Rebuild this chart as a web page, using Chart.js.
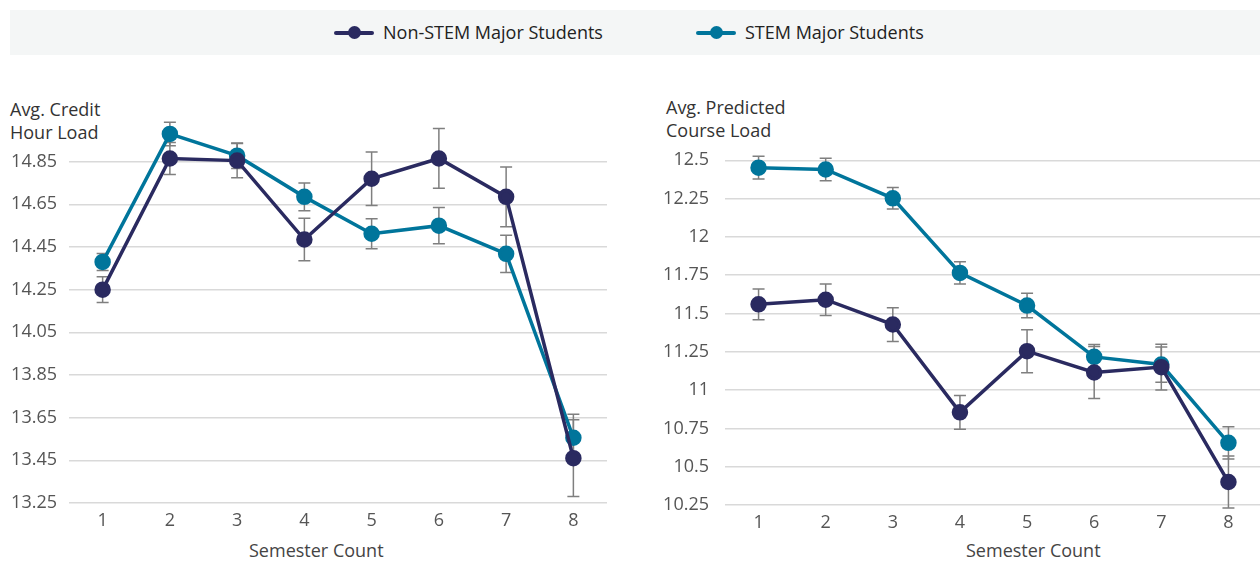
<!DOCTYPE html>
<html>
<head>
<meta charset="utf-8">
<script src="https://cdn.jsdelivr.net/npm/chart.js@4/dist/chart.umd.min.js"></script>
<style>
  html, body { margin: 0; padding: 0; background: #fff; }
  body { width: 1260px; height: 562px; overflow: hidden; position: relative; font-family: "Open Sans", "Noto Sans", sans-serif; }
  .legend { position: absolute; left: 10px; top: 10px; width: 1250px; height: 45px; background: #f4f6f6; }
  .item { position: absolute; top: 0; height: 45px; line-height: 45px; font-size: 18px; color: #222; white-space: nowrap; }
  .swatch { position: absolute; top: 21px; left: 0; width: 40px; height: 4px; border-radius: 2px; }
  .swatch::after { content: ""; position: absolute; left: 14px; top: -5px; width: 13px; height: 13px; border-radius: 50%; background: inherit; }
  .item span { position: absolute; left: 49px; top: 0; }
  .ytitle { position: absolute; font-size: 18px; line-height: 23px; color: #333; white-space: nowrap; }
  .xtitle { position: absolute; top: 538px; font-size: 18px; line-height: 24px; color: #444; white-space: nowrap; }
  canvas { position: absolute; top: 60px; }
</style>
</head>
<body>
<div class="legend">
  <div class="item" style="left:324px;width:300px;"><div class="swatch" style="background:#2a2a60;"></div><span>Non-STEM Major Students</span></div>
  <div class="item" style="left:686px;width:300px;"><div class="swatch" style="background:#00759b;"></div><span>STEM Major Students</span></div>
</div>
<div class="ytitle" style="left:10px;top:98px;">Avg. Credit<br>Hour Load</div>
<div class="ytitle" style="left:666px;top:96px;">Avg. Predicted<br>Course Load</div>
<div class="xtitle" style="left:249px;">Semester Count</div>
<div class="xtitle" style="left:966px;">Semester Count</div>
<canvas id="credit" width="620" height="502" style="left:0;"></canvas>
<canvas id="course" width="632" height="502" style="left:640px;"></canvas>
<script>
// Semester categories shared by both panels
const semesters = ['1', '2', '3', '4', '5', '6', '7', '8'];

// Average credit hour load per semester
const creditNonStem = [14.25, 14.865, 14.855, 14.485, 14.77, 14.865, 14.685, 13.46];
const creditNonStemErr = [0.06, 0.075, 0.08, 0.1, 0.125, 0.14, 0.14, 0.18];
const creditStem = [14.38, 14.98, 14.878, 14.685, 14.512, 14.55, 14.418, 13.556];
const creditStemErr = [0.04, 0.055, 0.06, 0.065, 0.07, 0.085, 0.087, 0.11];
const creditTicks = [13.25, 13.45, 13.65, 13.85, 14.05, 14.25, 14.45, 14.65, 14.85];

// Average predicted course load per semester
const courseNonStem = [11.56, 11.59, 11.428, 10.855, 11.254, 11.115, 11.15, 10.4];
const courseNonStemErr = [0.1, 0.103, 0.11, 0.11, 0.14, 0.17, 0.15, 0.17];
const courseStem = [12.452, 12.44, 12.252, 11.765, 11.552, 11.217, 11.167, 10.656];
const courseStemErr = [0.074, 0.073, 0.07, 0.073, 0.08, 0.08, 0.115, 0.105];
const courseTicks = [10.25, 10.5, 10.75, 11, 11.25, 11.5, 11.75, 12, 12.25, 12.5];

const NAVY = '#2a2a60';
const TEAL = '#00759b';
const FONT = '"Open Sans", "Noto Sans", sans-serif';

// Vertical whiskers with caps, drawn beneath the lines and markers
const errorBars = {
  id: 'errorBars',
  beforeDatasetsDraw(chart) {
    const { ctx, scales: { x, y } } = chart;
    ctx.save();
    ctx.strokeStyle = '#7f7f7f';
    ctx.lineWidth = 1.5;
    chart.data.datasets.forEach(ds => {
      ds.values.forEach((v, i) => {
        const e = ds.errors[i];
        const px = x.getPixelForValue(i);
        const top = y.getPixelForValue(v + e);
        const bot = y.getPixelForValue(v - e);
        ctx.beginPath();
        ctx.moveTo(px, top); ctx.lineTo(px, bot);
        ctx.moveTo(px - 6, top); ctx.lineTo(px + 6, top);
        ctx.moveTo(px - 6, bot); ctx.lineTo(px + 6, bot);
        ctx.stroke();
      });
    });
    ctx.restore();
  }
};

function series(label, values, errors, color) {
  return {
    label, data: values, values, errors,
    borderColor: color, backgroundColor: color,
    pointBackgroundColor: color, pointBorderColor: color,
    borderWidth: 3.5, pointRadius: 6.5, pointHoverRadius: 6.5,
    tension: 0, clip: false
  };
}

function makeChart(id, sets, yMin, yMax, ticks, yWidth, tickPad, pad, xHeight) {
  return new Chart(document.getElementById(id), {
    type: 'line',
    data: { labels: semesters, datasets: sets },
    options: {
      responsive: false, animation: false, devicePixelRatio: 1,
      layout: { padding: pad },
      plugins: { legend: { display: false }, tooltip: { enabled: false } },
      scales: {
        x: {
          offset: true,
          grid: { display: false, drawTicks: false },
          border: { display: false },
          ticks: { color: '#555', font: { family: FONT, size: 18 }, padding: 7 },
          afterFit(s) { s.height = xHeight; }
        },
        y: {
          min: yMin, max: yMax,
          afterBuildTicks(s) { s.ticks = ticks.map(v => ({ value: v })); },
          grid: { color: '#d9d9d9', lineWidth: 1.5, drawTicks: false },
          border: { display: false },
          ticks: { color: '#555', font: { family: FONT, size: 18 }, padding: tickPad, callback: v => String(v) },
          afterFit(s) { s.width = yWidth; }
        }
      }
    },
    plugins: [errorBars]
  });
}

makeChart('credit', [
  series('Non-STEM Major Students', creditNonStem, creditNonStemErr, NAVY),
  series('STEM Major Students', creditStem, creditStemErr, TEAL)
], 13.25, 15.05, creditTicks, 69, 12, { top: 59, right: 13, bottom: 0, left: 0 }, 59);

makeChart('course', [
  series('Non-STEM Major Students', courseNonStem, courseNonStemErr, NAVY),
  series('STEM Major Students', courseStem, courseStemErr, TEAL)
], 10.25, 12.6, courseTicks, 85, 16, { top: 85, right: 0, bottom: 0, left: 0 }, 57);
</script>
</body>
</html>
